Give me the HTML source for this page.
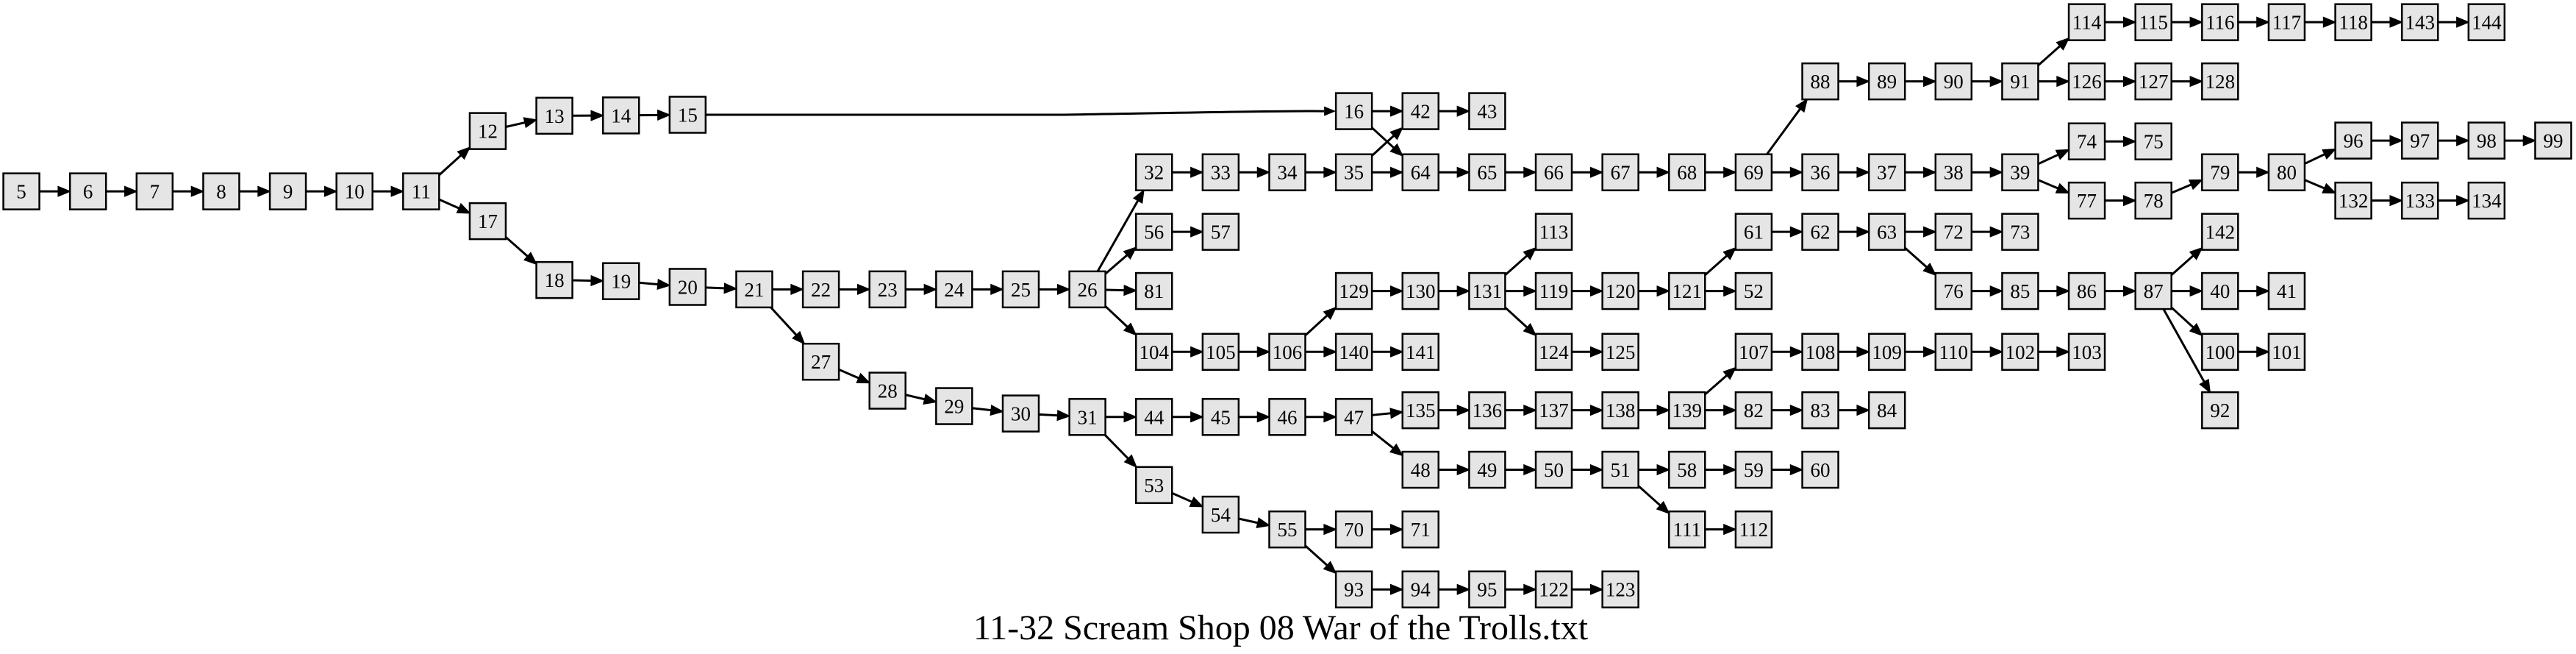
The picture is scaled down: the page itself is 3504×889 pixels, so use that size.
<!DOCTYPE html>
<html><head><meta charset="utf-8"><style>
html,body{margin:0;padding:0;background:#fff;width:3504px;height:889px;overflow:hidden}
svg{display:block}
</style></head><body>
<svg id="g" xmlns="http://www.w3.org/2000/svg" width="3504" height="889" viewBox="0 0 3504 889">
<rect width="3504" height="889" fill="#fff"/>
<text x="1742" y="869" font-family="Liberation Serif, serif" font-size="48" text-anchor="middle" fill="#000">11-32 Scream Shop 08 War of the Trolls.txt</text>
</svg>
<script>
var S=2.235;
function X(k){return (13+40.55*k)*S;}
var N={};
function P(n,k,y){N[n]=[X(k),y*S];}
[5,6,7,8,9,10,11].forEach(function(n,i){P(n,i,116.4);});
P(12,7,79.7);P(17,7,134.5);
P(13,8,70.4);P(14,9,70.2);P(15,10,69.8);
P(18,8,170.3);P(19,9,171);P(20,10,174.5);
[21,22,23,24,25,26].forEach(function(n,i){P(n,11+i,176);});
P(27,12,220);P(28,13,237.6);P(29,14,247);P(30,15,251.5);P(31,16,253.6);
P(16,20,67.6);P(42,21,67.6);P(43,22,67.6);
[32,33,34,35,64,65,66,67,68,69,36,37,38,39].forEach(function(n,i){P(n,17+i,104.8);});
P(56,17,141);P(57,18,141);P(81,17,177);
[104,105,106,140,141].forEach(function(n,i){P(n,17+i,214);});
[129,130,131,119,120,121,52].forEach(function(n,i){P(n,20+i,177);});
P(113,23,141);P(124,23,214);P(125,24,214);
[61,62,63,72,73].forEach(function(n,i){P(n,26+i,141);});
[76,85,86,87,40,41].forEach(function(n,i){P(n,29+i,177);});
P(142,33,141);P(100,33,214);P(101,34,214);P(92,33,249.5);
[44,45,46,47].forEach(function(n,i){P(n,17+i,253.6);});
[135,136,137,138,139].forEach(function(n,i){P(n,21+i,249.5);});
[107,108,109,110,102,103].forEach(function(n,i){P(n,26+i,214);});
[82,83,84].forEach(function(n,i){P(n,26+i,249.5);});
[48,49,50,51,58,59,60].forEach(function(n,i){P(n,21+i,285.7);});
P(111,25,322);P(112,26,322);
P(53,17,295);P(54,18,313);P(55,19,322);P(70,20,322);P(71,21,322);
[93,94,95,122,123].forEach(function(n,i){P(n,20+i,358.5);});
[88,89,90,91,126,127,128].forEach(function(n,i){P(n,27+i,49.5);});
[114,115,116,117,118,143,144].forEach(function(n,i){P(n,31+i,13.5);});
P(74,31,86);P(75,32,86);P(77,31,122);P(78,32,122);P(79,33,104.8);P(80,34,104.8);
[96,97,98,99].forEach(function(n,i){P(n,35+i,85.5);});
[132,133,134].forEach(function(n,i){P(n,35+i,122);});
var E="5-6,6-7,7-8,8-9,9-10,10-11,11-12,11-17,12-13,13-14,14-15,16-42,16-64,42-43,17-18,18-19,19-20,20-21,21-22,21-27,22-23,23-24,24-25,25-26,26-32,26-56,26-81,26-104,27-28,28-29,29-30,30-31,31-44,31-53,32-33,33-34,34-35,35-42,35-64,64-65,65-66,66-67,67-68,68-69,69-88,69-36,36-37,37-38,38-39,39-74,39-77,74-75,77-78,78-79,79-80,80-96,80-132,96-97,97-98,98-99,132-133,133-134,88-89,89-90,90-91,91-114,91-126,114-115,115-116,116-117,117-118,118-143,143-144,126-127,127-128,56-57,104-105,105-106,106-129,106-140,140-141,129-130,130-131,131-113,131-119,131-124,124-125,119-120,120-121,121-61,121-52,61-62,62-63,63-72,63-76,72-73,76-85,85-86,86-87,87-142,87-40,87-100,87-92,40-41,100-101,44-45,45-46,46-47,47-135,47-48,135-136,136-137,137-138,138-139,139-107,139-82,107-108,108-109,109-110,110-102,102-103,82-83,83-84,48-49,49-50,50-51,51-58,51-111,58-59,59-60,111-112,53-54,54-55,55-70,55-93,70-71,93-94,94-95,95-122,122-123".split(",");
var HW=24.5,HH=24.5,AL=16,AW=6.5;
var s="";
function clip(dx,dy){return Math.min(dx?HW/Math.abs(dx):1e9,dy?HH/Math.abs(dy):1e9);}
function arrow(x1,y1,x2,y2){
  var dx=x2-x1,dy=y2-y1,L=Math.sqrt(dx*dx+dy*dy),ux=dx/L,uy=dy/L;
  var bx=x2-ux*AL,by=y2-uy*AL;
  s+='<line x1="'+x1+'" y1="'+y1+'" x2="'+bx+'" y2="'+by+'" stroke="#000" stroke-width="3"/>';
  s+='<polygon points="'+x2+','+y2+' '+(bx-uy*AW)+','+(by+ux*AW)+' '+(bx+uy*AW)+','+(by-ux*AW)+'" fill="#000" stroke="#000" stroke-width="1.5"/>';
}
E.forEach(function(e){var p=e.split("-"),a=N[p[0]],b=N[p[1]];
  var dx=b[0]-a[0],dy=b[1]-a[1];var t=clip(dx,dy);
  arrow(a[0]+dx*t,a[1]+dy*t,b[0]-dx*t,b[1]-dy*t);});
var a=N[15],b=N[16];
s+='<path d="M'+(a[0]+HW)+','+a[1]+' L'+(X(14)+150)+','+a[1]+' C'+(X(17))+','+(a[1]-2)+' '+(X(19))+','+(b[1]-1)+' '+(b[0]-HW-AL)+','+b[1]+'" fill="none" stroke="#000" stroke-width="3"/>';
s+='<polygon points="'+(b[0]-HW)+','+b[1]+' '+(b[0]-HW-AL)+','+(b[1]-AW)+' '+(b[0]-HW-AL)+','+(b[1]+AW)+'" fill="#000"/>';
for(var n in N){var c=N[n];
  s+='<rect x="'+(c[0]-HW)+'" y="'+(c[1]-HH)+'" width="'+(2*HW)+'" height="'+(2*HH)+'" fill="#e5e5e5" stroke="#000" stroke-width="2.5"/>';
  s+='<text x="'+c[0]+'" y="'+(c[1]+9.5)+'" font-family="Liberation Serif, serif" font-size="27" text-anchor="middle" fill="#000">'+n+'</text>';
}
document.getElementById("g").insertAdjacentHTML("beforeend",s);
</script>
</body></html>
